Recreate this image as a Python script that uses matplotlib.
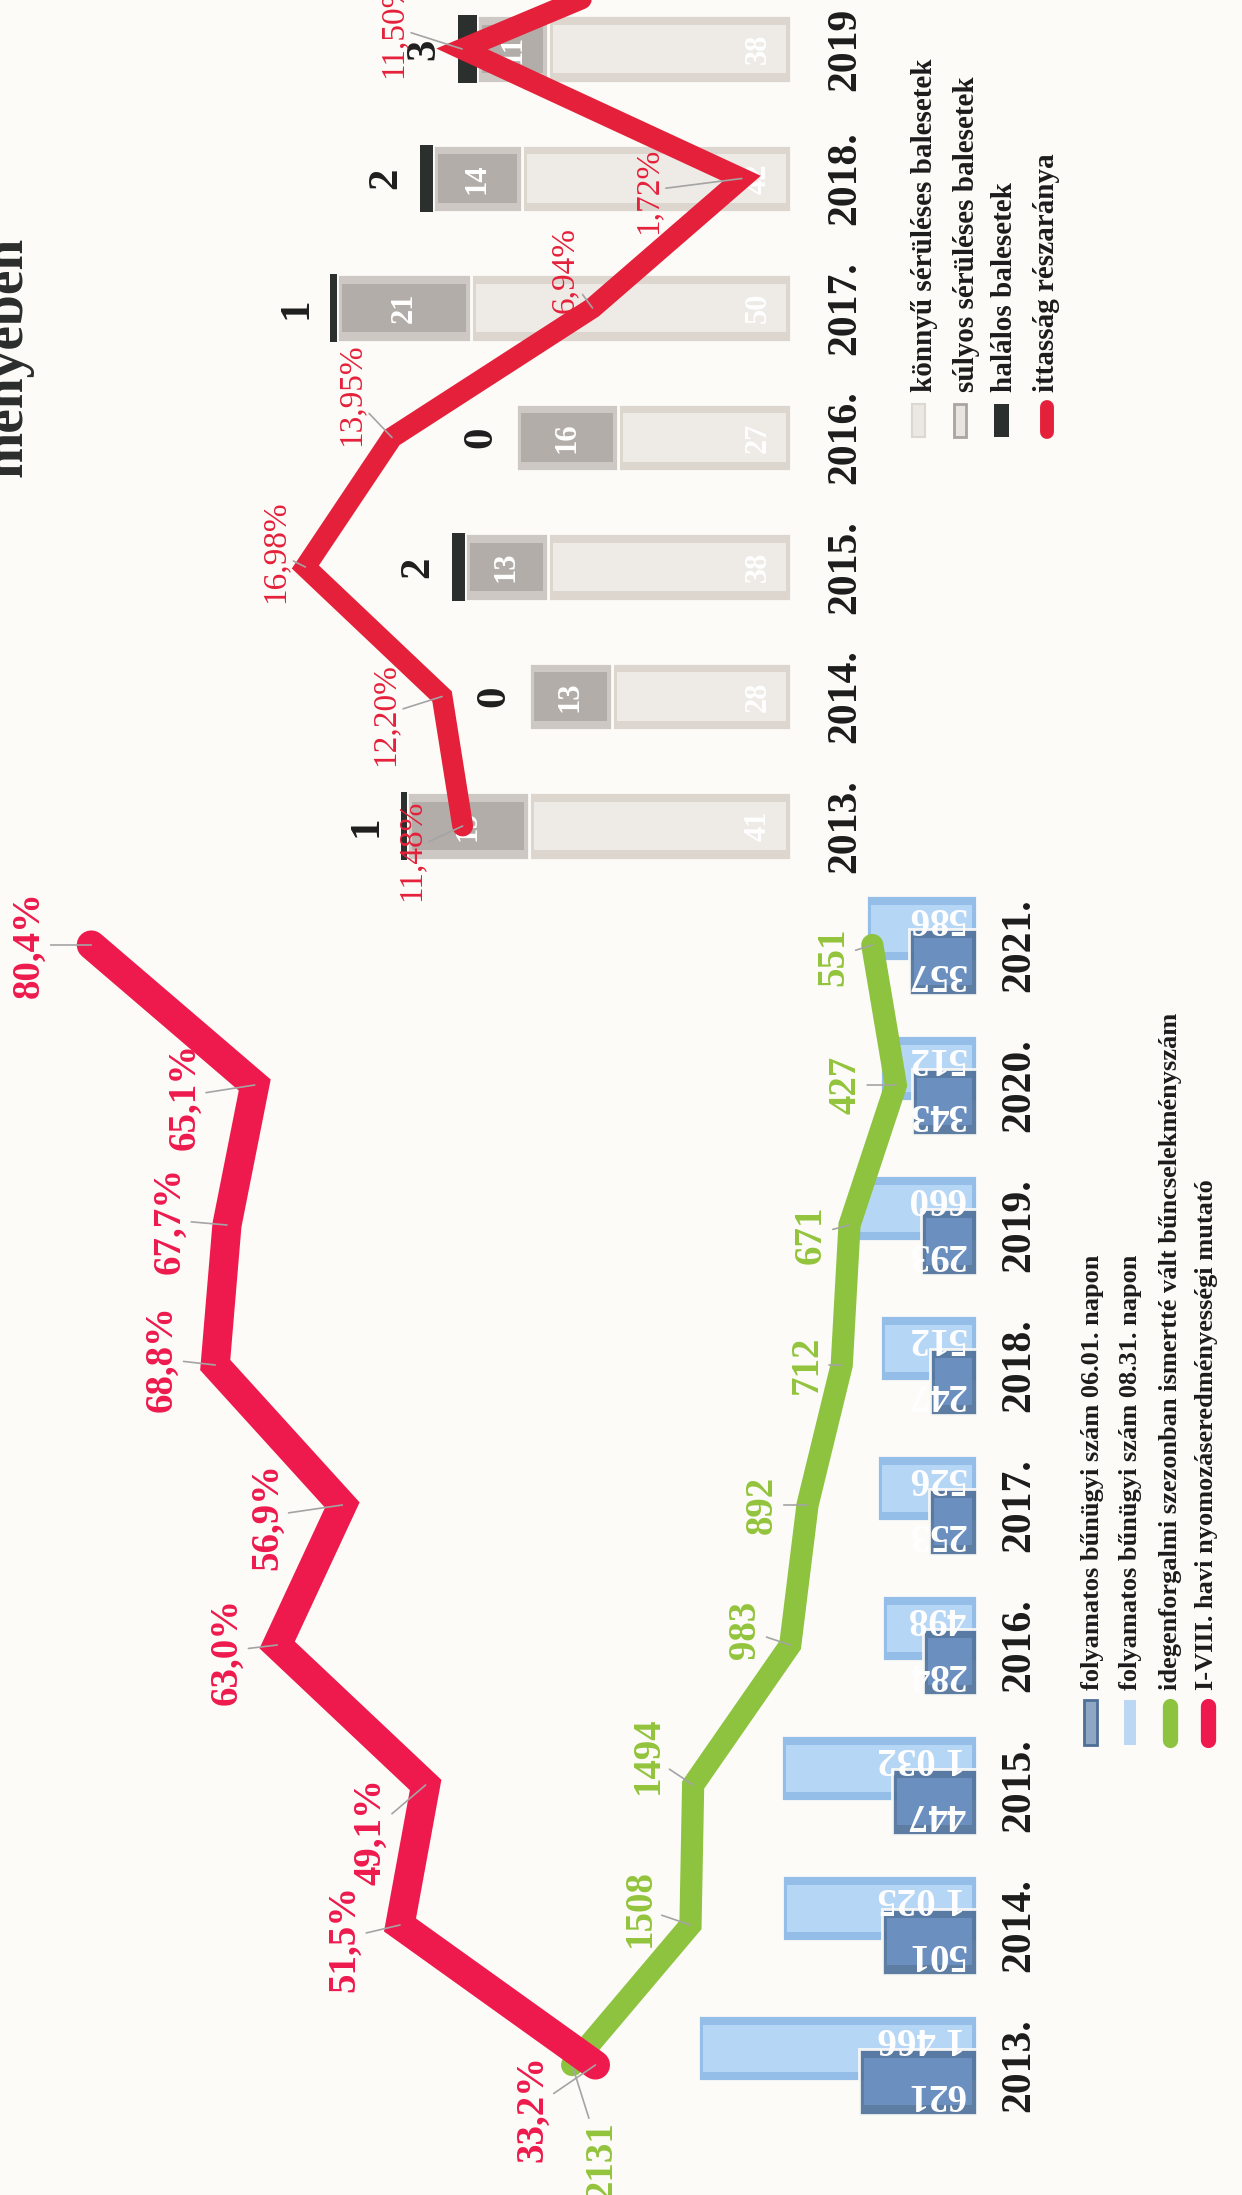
import numpy as np
import matplotlib.pyplot as plt
from matplotlib.transforms import blended_transform_factory
from matplotlib.patches import Rectangle
from matplotlib.lines import Line2D

plt.rcParams['font.family'] = ['Liberation Serif', 'DejaVu Serif']

# --- balesetek (felső grafikon) ---
acc_years = ['2013.', '2014.', '2015.', '2016.', '2017.', '2018.', '2019']
konnyu = [41, 28, 38, 27, 50, 42, 38]
sulyos = [19, 13, 13, 16, 21, 14, 11]
halalos = [1, 0, 2, 0, 1, 2, 3]
ittas_pct = [11.48, 12.20, 16.98, 13.95, 6.94, 1.72, 11.50]
ittas_txt = ['11,48%', '12,20%', '16,98%', '13,95%', '6,94%', '1,72%', '11,50%']
ittas_next = 0.7  # the line runs on past the cut top edge of the page

# --- bűnügyi adatok (alsó grafikon) ---
crime_years = ['2013.', '2014.', '2015.', '2016.', '2017.', '2018.', '2019.', '2020.', '2021.']
szam_0601 = [621, 501, 447, 284, 253, 247, 293, 343, 357]
szam_0831 = [1466, 1025, 1032, 498, 526, 512, 660, 512, 586]
idegen = [2131, 1508, 1494, 983, 892, 712, 671, 427, 551]
nyom_pct = [33.2, 51.5, 49.1, 63.0, 56.9, 68.8, 67.7, 65.1, 80.4]
nyom_txt = ['33,2%', '51,5%', '49,1%', '63,0%', '56,9%', '68,8%', '67,7%', '65,1%', '80,4%']

W, H = 1242, 2195
BG = '#fcfbf7'
RED_T = '#e5203a'
RED_B = '#ee1a4d'
GREEN = '#8dc33f'
GREEN_TXT = '#93c43c'

fig = plt.figure(figsize=(W / 100, H / 100), dpi=100, facecolor=BG)


def px2pt(v):
    return v * 72 / 100


def bevel_barh(ax, pos, vals, left, height, edge, face, ppu, inset=5, alpha=1.0):
    vals = np.asarray(vals, float)
    left = np.asarray(left, float)
    ax.barh(pos, vals, left=left, height=height, color=edge, edgecolor=BG,
            linewidth=2, alpha=alpha, zorder=2)
    ins = inset / ppu
    inner = np.clip(vals - 2 * ins, 0, None)
    ax.barh(pos, inner, left=left + ins, height=height * 0.72, color=face,
            linewidth=0, alpha=alpha, zorder=2)


# ================= felső grafikon =================
T_BASE, T_K, T_PK = 791, 6.4, 28.6
T_ROW0, T_STEP, T_BOTTOM = 826, 129.5, 900

ax_t = fig.add_axes([0, 1 - T_BOTTOM / H, T_BASE / W, T_BOTTOM / H])
ax_t.set_facecolor('none')
ax_t.set_xlim(T_BASE / T_K, 0)
ax_t.set_ylim((T_ROW0 - T_BOTTOM) / T_STEP, T_ROW0 / T_STEP)
ax_t.axis('off')

rt = np.arange(len(acc_years))
konnyu_a = np.array(konnyu)
sulyos_a = np.array(sulyos)
halalos_a = np.array(halalos)
bh = 0.52
bevel_barh(ax_t, rt, konnyu_a, 0, bh, '#dcd6cf', '#eeebe7', T_K)
bevel_barh(ax_t, rt, sulyos_a, konnyu_a, bh, '#cdc8c3', '#b2ada9', T_K)
ax_t.barh(rt, halalos_a, left=konnyu_a + sulyos_a, height=bh, color='#2b302e',
          linewidth=0, zorder=2)

for i in rt:
    ax_t.annotate(str(konnyu[i]), (0, i), xytext=(-px2pt(33), 0), textcoords='offset points',
                  rotation=90, ha='center', va='center', color='white',
                  fontsize=22, fontweight='bold', zorder=3)
    ax_t.text(konnyu[i] + sulyos[i] / 2, i, str(sulyos[i]), rotation=90, ha='center',
              va='center', color='white', fontsize=22, fontweight='bold', zorder=3)
    ax_t.annotate(str(halalos[i]), (konnyu[i] + sulyos[i] + halalos[i], i),
                  xytext=(-px2pt(34), 0), textcoords='offset points', rotation=90,
                  ha='center', va='center', color='#1e1e1e', fontsize=31,
                  fontweight='bold', zorder=3)

yt = blended_transform_factory(fig.transFigure, ax_t.transData)
for i, y in enumerate(acc_years):
    ax_t.text(845 / W, i, y, transform=yt, rotation=90, ha='center', va='center',
              fontsize=30, fontweight='bold', color='#1c1c1c')

ax_tl = ax_t.twiny()
ax_tl.set_facecolor('none')
ax_tl.set_xlim(T_BASE / T_PK, 0)
ax_tl.axis('off')
ax_tl.plot(ittas_pct + [ittas_next], list(rt) + [len(rt)], color=RED_T, lw=15,
           solid_capstyle='round', solid_joinstyle='miter', zorder=4)

t_off = [(-52, -24), (-57, -18), (-30, 15), (-41, 43), (-28, 38), (-94, -12), (-69, 22)]
for i, (p, s) in enumerate(zip(ittas_pct, ittas_txt)):
    dx, dy = t_off[i]
    ax_tl.annotate(s, (p, i), xytext=(px2pt(dx), px2pt(dy)), textcoords='offset points',
                   rotation=90, ha='center', va='center', color=RED_T, fontsize=24,
                   zorder=5, arrowprops=dict(arrowstyle='-', color='#a4a4a4', lw=1.2,
                                             shrinkA=0, shrinkB=0))

# felső jelmagyarázat
leg_t = [('könnyű sérüléses balesetek', 925), ('súlyos sérüléses balesetek', 966),
         ('halálos balesetek', 1005), ('ittasság részaránya', 1047)]
for txt, x in leg_t:
    fig.text(x / W, 1 - 392 / H, txt, rotation=90, ha='center', va='bottom',
             fontsize=21, fontweight='bold', color='#1c1c1c')
fig.add_artist(Rectangle((912 / W, 1 - 437 / H), 13 / W, 33 / H, transform=fig.transFigure,
                         facecolor='#ebe8e4', edgecolor='#dcd7d0', lw=1.5))
fig.add_artist(Rectangle((954 / W, 1 - 437 / H), 12 / W, 33 / H, transform=fig.transFigure,
                         facecolor='#e8e5e1', edgecolor='#aaa5a0', lw=2))
fig.add_artist(Rectangle((994 / W, 1 - 437 / H), 15 / W, 33 / H, transform=fig.transFigure,
                         facecolor='#2b302e', edgecolor='none'))
fig.add_artist(Line2D([1047 / W, 1047 / W], [1 - 407 / H, 1 - 432 / H], transform=fig.transFigure,
                      color=RED_T, lw=10, solid_capstyle='round'))

# ================= alsó grafikon =================
B_BASE, B_K = 977, 0.19
B_PZERO, B_PK = 950, 10.68
B_ROW0, B_STEP, B_TOP = 2065, 140, 700

ax_b = fig.add_axes([0, 0, B_BASE / W, (H - B_TOP) / H])
ax_b.set_facecolor('none')
ax_b.set_xlim(B_BASE / B_K, 0)
ax_b.set_ylim((B_ROW0 - H) / B_STEP, (B_ROW0 - B_TOP) / B_STEP)
ax_b.axis('off')

rb = np.arange(len(crime_years))
bevel_barh(ax_b, rb + 0.12, szam_0831, 0, 0.47, '#94bde8', '#b6d6f5', B_K)
bevel_barh(ax_b, rb - 0.12, szam_0601, 0, 0.47, '#52739c', '#6d92c3', B_K, alpha=0.93)

for i in rb:
    ax_b.annotate(f"{szam_0831[i]:,}".replace(',', ' '), (0, i + 0.2),
                  xytext=(-px2pt(12), 0), textcoords='offset points', rotation=180,
                  rotation_mode='anchor', ha='left', va='center', color='white',
                  fontsize=28, fontweight='bold', zorder=3)
    ax_b.annotate(str(szam_0601[i]), (0, i - 0.2),
                  xytext=(-px2pt(12), 0), textcoords='offset points', rotation=180,
                  rotation_mode='anchor', ha='left', va='center', color='white',
                  fontsize=28, fontweight='bold', zorder=3)

ax_b.plot(idegen, rb, color=GREEN, lw=16, solid_capstyle='round',
          solid_joinstyle='miter', zorder=4)
g_off = [(30, -95), (-50, 17), (-45, 30), (-45, 15), (-45, 0), (-34, 0), (-38, -10),
         (-50, 0), (-38, -12)]
for i, v in enumerate(idegen):
    dx, dy = g_off[i]
    ax_b.annotate(str(v), (v, i), xytext=(px2pt(dx), px2pt(dy)), textcoords='offset points',
                  rotation=90, ha='center', va='center', color=GREEN_TXT, fontsize=28,
                  fontweight='bold', zorder=5,
                  arrowprops=dict(arrowstyle='-', color='#a4a4a4', lw=1.2,
                                  shrinkA=0, shrinkB=0))

yb = blended_transform_factory(fig.transFigure, ax_b.transData)
for i, y in enumerate(crime_years):
    ax_b.text(1019 / W, i, y, transform=yb, rotation=90, ha='center', va='center',
              fontsize=30, fontweight='bold', color='#1c1c1c')

ax_br = ax_b.twiny()
ax_br.set_facecolor('none')
ax_br.set_xlim(B_PZERO / B_PK, (B_PZERO - B_BASE) / B_PK)
ax_br.axis('off')
ax_br.plot(nyom_pct, rb, color=RED_B, lw=21, solid_capstyle='round',
           solid_joinstyle='miter', zorder=4)
r_off = [(-63, -43), (-55, -13), (-55, -47), (-50, -6), (-75, -11), (-53, 6), (-57, 5),
         (-70, -11), (-62, 0)]
for i, (p, s) in enumerate(zip(nyom_pct, nyom_txt)):
    dx, dy = r_off[i]
    ax_br.annotate(s, (p, i), xytext=(px2pt(dx), px2pt(dy)), textcoords='offset points',
                   rotation=90, ha='center', va='center', color=RED_B, fontsize=28,
                   fontweight='bold', zorder=5,
                   arrowprops=dict(arrowstyle='-', color='#a4a4a4', lw=1.2,
                                   shrinkA=0, shrinkB=0))

# alsó jelmagyarázat
leg_b = [('folyamatos bűnügyi szám 06.01. napon', 1092),
         ('folyamatos bűnügyi szám 08.31. napon', 1131),
         ('idegenforgalmi szezonban ismertté vált bűncselekményszám', 1170),
         ('I-VIII. havi nyomozáseredményességi mutató', 1207)]
for txt, x in leg_b:
    fig.text(x / W, 1 - 1690 / H, txt, rotation=90, ha='center', va='bottom',
             fontsize=19, fontweight='bold', color='#1c1c1c')
fig.add_artist(Rectangle((1084 / W, 1 - 1745 / H), 13 / W, 45 / H, transform=fig.transFigure,
                         facecolor='#8fa6c4', edgecolor='#4f6f96', lw=2))
fig.add_artist(Rectangle((1124 / W, 1 - 1745 / H), 12 / W, 45 / H, transform=fig.transFigure,
                         facecolor='#bcd7f3', edgecolor='none'))
fig.add_artist(Line2D([1170 / W, 1170 / W], [1 - 1706 / H, 1 - 1740 / H], transform=fig.transFigure,
                      color=GREEN, lw=11, solid_capstyle='round'))
fig.add_artist(Line2D([1208 / W, 1208 / W], [1 - 1706 / H, 1 - 1740 / H], transform=fig.transFigure,
                      color=RED_B, lw=11, solid_capstyle='round'))

# levágott cím a lap szélén
fig.text(8 / W, 1 - 357 / H, 'ményében', rotation=90, ha='center', va='center',
         fontsize=40, fontweight='bold', color='#2a2d2c')

fig.savefig('out.png', dpi=100, facecolor=BG)
